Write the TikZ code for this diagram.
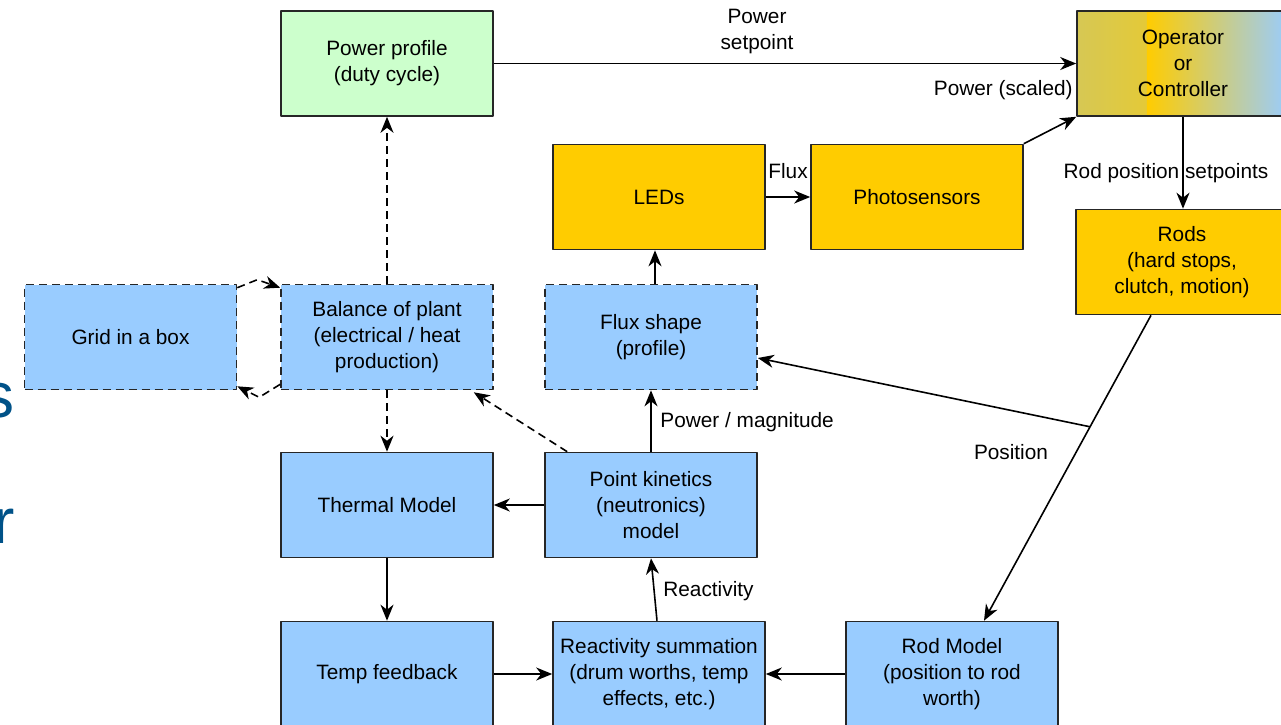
\documentclass[tikz,border=0pt]{standalone}
\usepackage{fontspec}
\setmainfont{Liberation Sans}
\usetikzlibrary{arrows.meta,calc}
\definecolor{boxblue}{RGB}{153,204,255}
\definecolor{boxgreen}{RGB}{204,255,204}
\definecolor{boxyellow}{RGB}{255,204,0}
\definecolor{boxolive}{RGB}{214,200,84}
\definecolor{slideblue}{RGB}{0,82,136}
\tikzset{
	box/.style={draw=black!85,line width=0.8pt,minimum width=106pt,minimum height=52.5pt,inner sep=0pt,align=center,font=\fontsize{10.4}{13}\selectfont},
	bluebox/.style={box,fill=boxblue},
	greenbox/.style={box,fill=boxgreen},
	yellowbox/.style={box,fill=boxyellow},
	dashbox/.style={bluebox,dash pattern=on 4pt off 2.5pt},
	lbl/.style={inner sep=0pt,align=center,font=\fontsize{10.4}{13}\selectfont},
	link/.style={->,line width=0.8pt},
	dlink/.style={link,dash pattern=on 4pt off 2.5pt}
}
\begin{document}
\begin{tikzpicture}[x=0.5pt,y=-0.5pt,>={Stealth[length=8pt,width=6.5pt,inset=2.5pt]},line join=round]
		\useasboundingbox (0,0) rectangle (1281,724);
		%khung
		\foreach \n/\p/\s/\t in {
			power/{(387,63.5)}/greenbox/{Power profile\\(duty cycle)},
			leds/{(659,197)}/yellowbox/{LEDs},
			photo/{(917,197)}/yellowbox/{Photosensors},
			rods/{(1182,262)}/yellowbox/{Rods\\(hard stops,\\clutch, motion)},
			grid/{(130.5,337)}/dashbox/{Grid in a box},
			bop/{(387,337)}/dashbox/{Balance of plant\\(electrical / heat\\production)},
			flux/{(651,337)}/dashbox/{Flux shape\\(profile)},
			thermal/{(387,505)}/bluebox/{Thermal Model},
			pk/{(651,505)}/bluebox/{Point kinetics\\(neutronics)\\model},
			temp/{(387,674)}/bluebox/{Temp feedback},
			react/{(659,674)}/bluebox/{Reactivity summation\\(drum worths, temp\\effects, etc.)},
			rodm/{(952,674)}/bluebox/{Rod Model\\(position to rod\\worth)}}{
		\node[\s] (\n) at \p {\t};}
		\node[box,path picture={
			\shade[left color=boxolive,right color=boxyellow] (path picture bounding box.south west) rectangle ($(path picture bounding box.north west)!0.33!(path picture bounding box.north east)$);
			\shade[left color=boxyellow,right color=boxblue] ($(path picture bounding box.south west)!0.329!(path picture bounding box.south east)$) rectangle (path picture bounding box.north east);}]
		(oper) at (1183,63.5) {Operator\\or\\Controller};
		%mui ten
		\draw[link] (power) -- (oper);
		\node[lbl] (psp) at (757,31) {Power\\setpoint};
		\draw[link] (photo.north east) -- (oper.south west);
		\node[lbl,anchor=east] (psc) at (1073,90) {Power (scaled)};
		\draw[link] (leds) -- (photo);
		\node[lbl] (flx) at (788,171) {Flux};
		\draw[link] (oper.south) -- (oper.south |- rods.north);
		\node[lbl] (rps) at (1166,173) {Rod position setpoints};
		\coordinate (rtop) at ([xshift=-15.5pt]rods.south);
		\coordinate (rbot) at ([xshift=16pt]rodm.north);
		\coordinate (fork) at ($(rtop)!0.365!(rbot)$);
		\draw[link] (rtop) -- (rbot);
		\draw[link] (fork) -- ([yshift=-10.5pt]flux.east);
		\node[lbl] (pos) at (1011,452) {Position};
		\draw[link] ([xshift=2pt]flux.north) -- ([xshift=-2pt]leds.south);
		\draw[link] (pk) -- (flux);
		\node[lbl,anchor=west] (pmag) at (660,422) {Power / magnitude};
		\draw[link] (pk) -- (thermal);
		\draw[dlink] ([xshift=11.5pt]pk.north west) -- ([xshift=-10pt,yshift=-1pt]bop.south east);
		\draw[dlink] (bop) -- (power);
		\draw[dlink] (bop) -- (thermal);
		\draw[dlink] ([yshift=-2pt]grid.north east) -- ++(20,-8) -- ([yshift=-2pt]bop.north west);
		\draw[dlink] ([yshift=3pt]bop.south west) -- ++(-21,13) -- ([yshift=2pt]grid.south east);
		\draw[link] (thermal) -- (temp);
		\draw[link] (temp) -- (react);
		\draw[link] (rodm) -- (react);
		\draw[link] ([xshift=-1pt]react.north) -- (pk.south);
		\node[lbl,anchor=west] (rct) at (663,591) {Reactivity};
		%chu bi cat
		\foreach \c/\y in {s/417,r/543}{
		\node[anchor=base east,inner sep=0pt,text=slideblue,font=\fontsize{32}{32}\selectfont] (cut\c) at (15,\y) {\c};}
\end{tikzpicture}
\end{document}
